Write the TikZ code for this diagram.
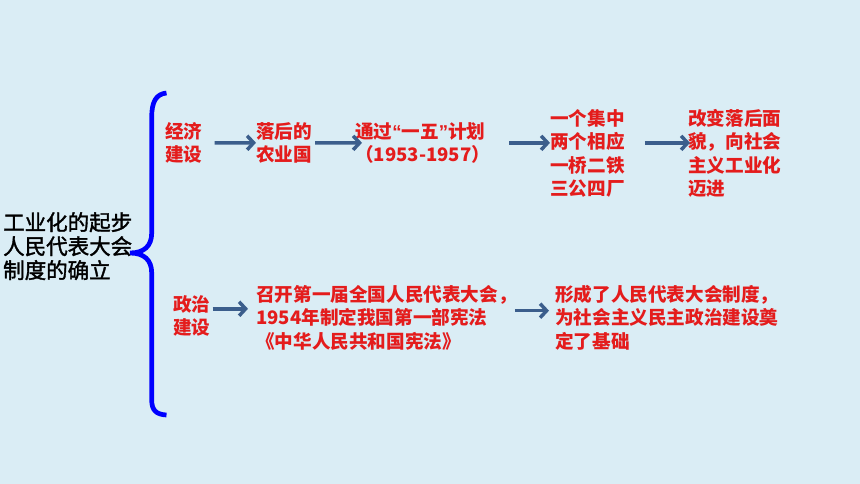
\documentclass[tikz,border=0pt]{standalone}
\usepackage{fontspec}
\setmainfont{Noto Sans CJK SC}
\newfontfamily\quotefont{Liberation Sans}
\newfontfamily\titlefont{Noto Sans CJK SC}[FakeBold=1.6]
\usetikzlibrary{arrows.meta,calc}
\definecolor{slidebg}{RGB}{218,237,245}
\definecolor{flowblue}{RGB}{59,94,140}
\definecolor{notered}{RGB}{228,28,28}
\newcommand{\narrowq}[1]{{\quotefont\bfseries #1}}
\tikzset{
    note/.style={anchor=north west, inner sep=0pt, align=left, text=notered,
        font=\fontsize{18.6}{23.5}\selectfont\bfseries},
    flow/.style={line width=3.5pt, draw=flowblue, -{Straight Barb[length=6.5pt,width=14pt]}}
}

\begin{document}
\begin{tikzpicture}[x=1pt,y=-1pt]
   	\fill [slidebg] (0,0) rectangle (860,484);
\useasboundingbox (0,0) rectangle (860,484);

%brace
\draw [blue, line width=4.7pt] (166.5,93) .. controls (156,94) and (151.7,102) .. (151.7,117) -- (151.7,233)
   .. controls (151.7,246) and (144,253) .. (130,253) .. controls (144,253) and (151.7,260) .. (151.7,273)
   -- (151.7,400) .. controls (151.7,410) and (156,414.5) .. (166.5,415);

\node [anchor=north west, inner sep=0pt, align=left, font=\titlefont\fontsize{21.5}{24}\selectfont] (title) at (3,212) {工业化的起步\\人民代表大会\\制度的确立};

\node [note] (econ) at (165,122) {经济\\建设};
\node [note] (backward) at (256,122) {落后的\\农业国};
\node [note] (plan) at (355,122) {通过\narrowq{“}一五\narrowq{”}计划\\（1953-1957）};
\node [note] (focus) at (550,109) {一个集中\\两个相应\\一桥二铁\\三公四厂};
\node [note] (change) at (688,109) {改变落后面\\貌，向社会\\主义工业化\\迈进};

\node [note] (polit) at (173,295) {政治\\建设};
\node [note] (congress) at (256,285) {召开第一届全国人民代表大会，\\1954年制定我国第一部宪法\\《中华人民共和国宪法》};
\node [note] (system) at (555,285) {形成了人民代表大会制度，\\为社会主义民主政治建设奠\\定了基础};

\draw [flow, shorten <=12pt] (econ.east) -- (backward.west);
\draw [flow, shorten <=3pt, shorten >=-7pt] (backward.east) -- (plan.west);
\draw [flow, shorten <=19pt] (plan.east) -- (focus.west |- plan.east);
\draw [flow, shorten <=20pt, shorten >=-2pt] (focus.east |- plan.east) -- (change.west |- plan.east);

\draw [flow, shorten <=2pt, shorten >=8pt] ([yshift=7pt]polit.east) -- ([yshift=7pt]polit.east -| congress.west);
\draw [flow, shorten <=-2pt, shorten >=6pt] ([yshift=7pt]congress.east) -- ([yshift=7pt]congress.east -| system.west);

   \end{tikzpicture}
\end{document}
